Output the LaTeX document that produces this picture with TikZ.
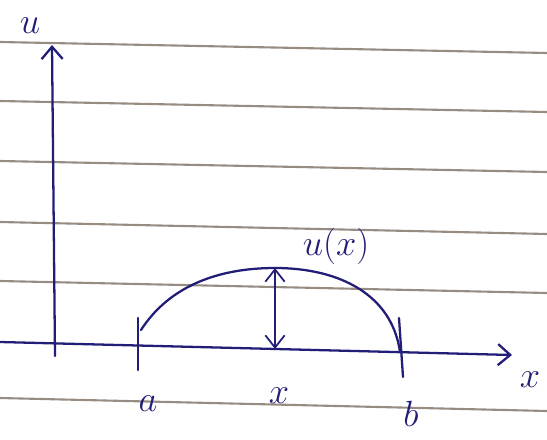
\documentclass[tikz,border=0pt]{standalone}
\usepackage{amsmath}
\usetikzlibrary{arrows.meta, calc}
\definecolor{InkBlue}{RGB}{34, 30, 120}
\definecolor{RuleGray}{RGB}{150, 140, 130}

\begin{document}
\begin{tikzpicture}[x=0.02cm, y=-0.02cm,
    ink/.style={InkBlue, line width=1.3pt, line cap=round},
    tip/.style={-{Straight Barb[length=7pt, width=12pt]}},
    lbl/.style={InkBlue, font=\huge, inner sep=0pt}]
    \useasboundingbox (0,0) rectangle (547,439);

    % Paper rules
    \foreach \y/\dy in {42/11, 101/11, 161/11, 222/12, 281/12, 398/13}
      \draw[RuleGray, line width=1.2pt] (0,\y) -- (547,\y+\dy);

    % Axes
    \coordinate (O) at (55,343);
    \coordinate (ubot) at (55,356);
    \coordinate (utop) at (52,45);
    \coordinate (xleft) at (0,342);
    \coordinate (xright) at (512,355);
    \draw[ink, tip] (ubot) -- (utop);
    \draw[ink, tip] (xleft) -- (xright);
    \node[lbl] (ulab) at (30,26) {$u$};
    \node[lbl] (xlab) at (530,380) {$x$};

    % End points a and b
    \coordinate (atop) at (138,318);
    \coordinate (abot) at (138,370);
    \coordinate (btop) at (399,318);
    \coordinate (bbot) at (403,377);
    \draw[ink] (atop) -- (abot);
    \draw[ink] (btop) -- (bbot);
    \node[lbl] (alab) at (148,404) {$a$};
    \node[lbl] (blab) at (411,414) {$b$};

    % The curve u(x)
    \coordinate (start) at (141,330);
    \coordinate (peak) at (275,268);
    \coordinate (stop) at (400,352);
    \draw[ink] (start) .. controls (170,285) and (220,268) .. (peak)
      .. controls (340,268) and (392,295) .. (stop);

    % Height at x
    \coordinate (foot) at (275,349);
    \draw[ink, line width=1pt, {Straight Barb[length=7pt, width=11pt]}-{Straight Barb[length=7pt, width=11pt]}] (foot) -- (peak);
    \node[lbl] (xmid) at (279,396) {$x$};
    \node[lbl] (uxlab) at (336,246) {$u(x)$};
  \end{tikzpicture}
\end{document}
